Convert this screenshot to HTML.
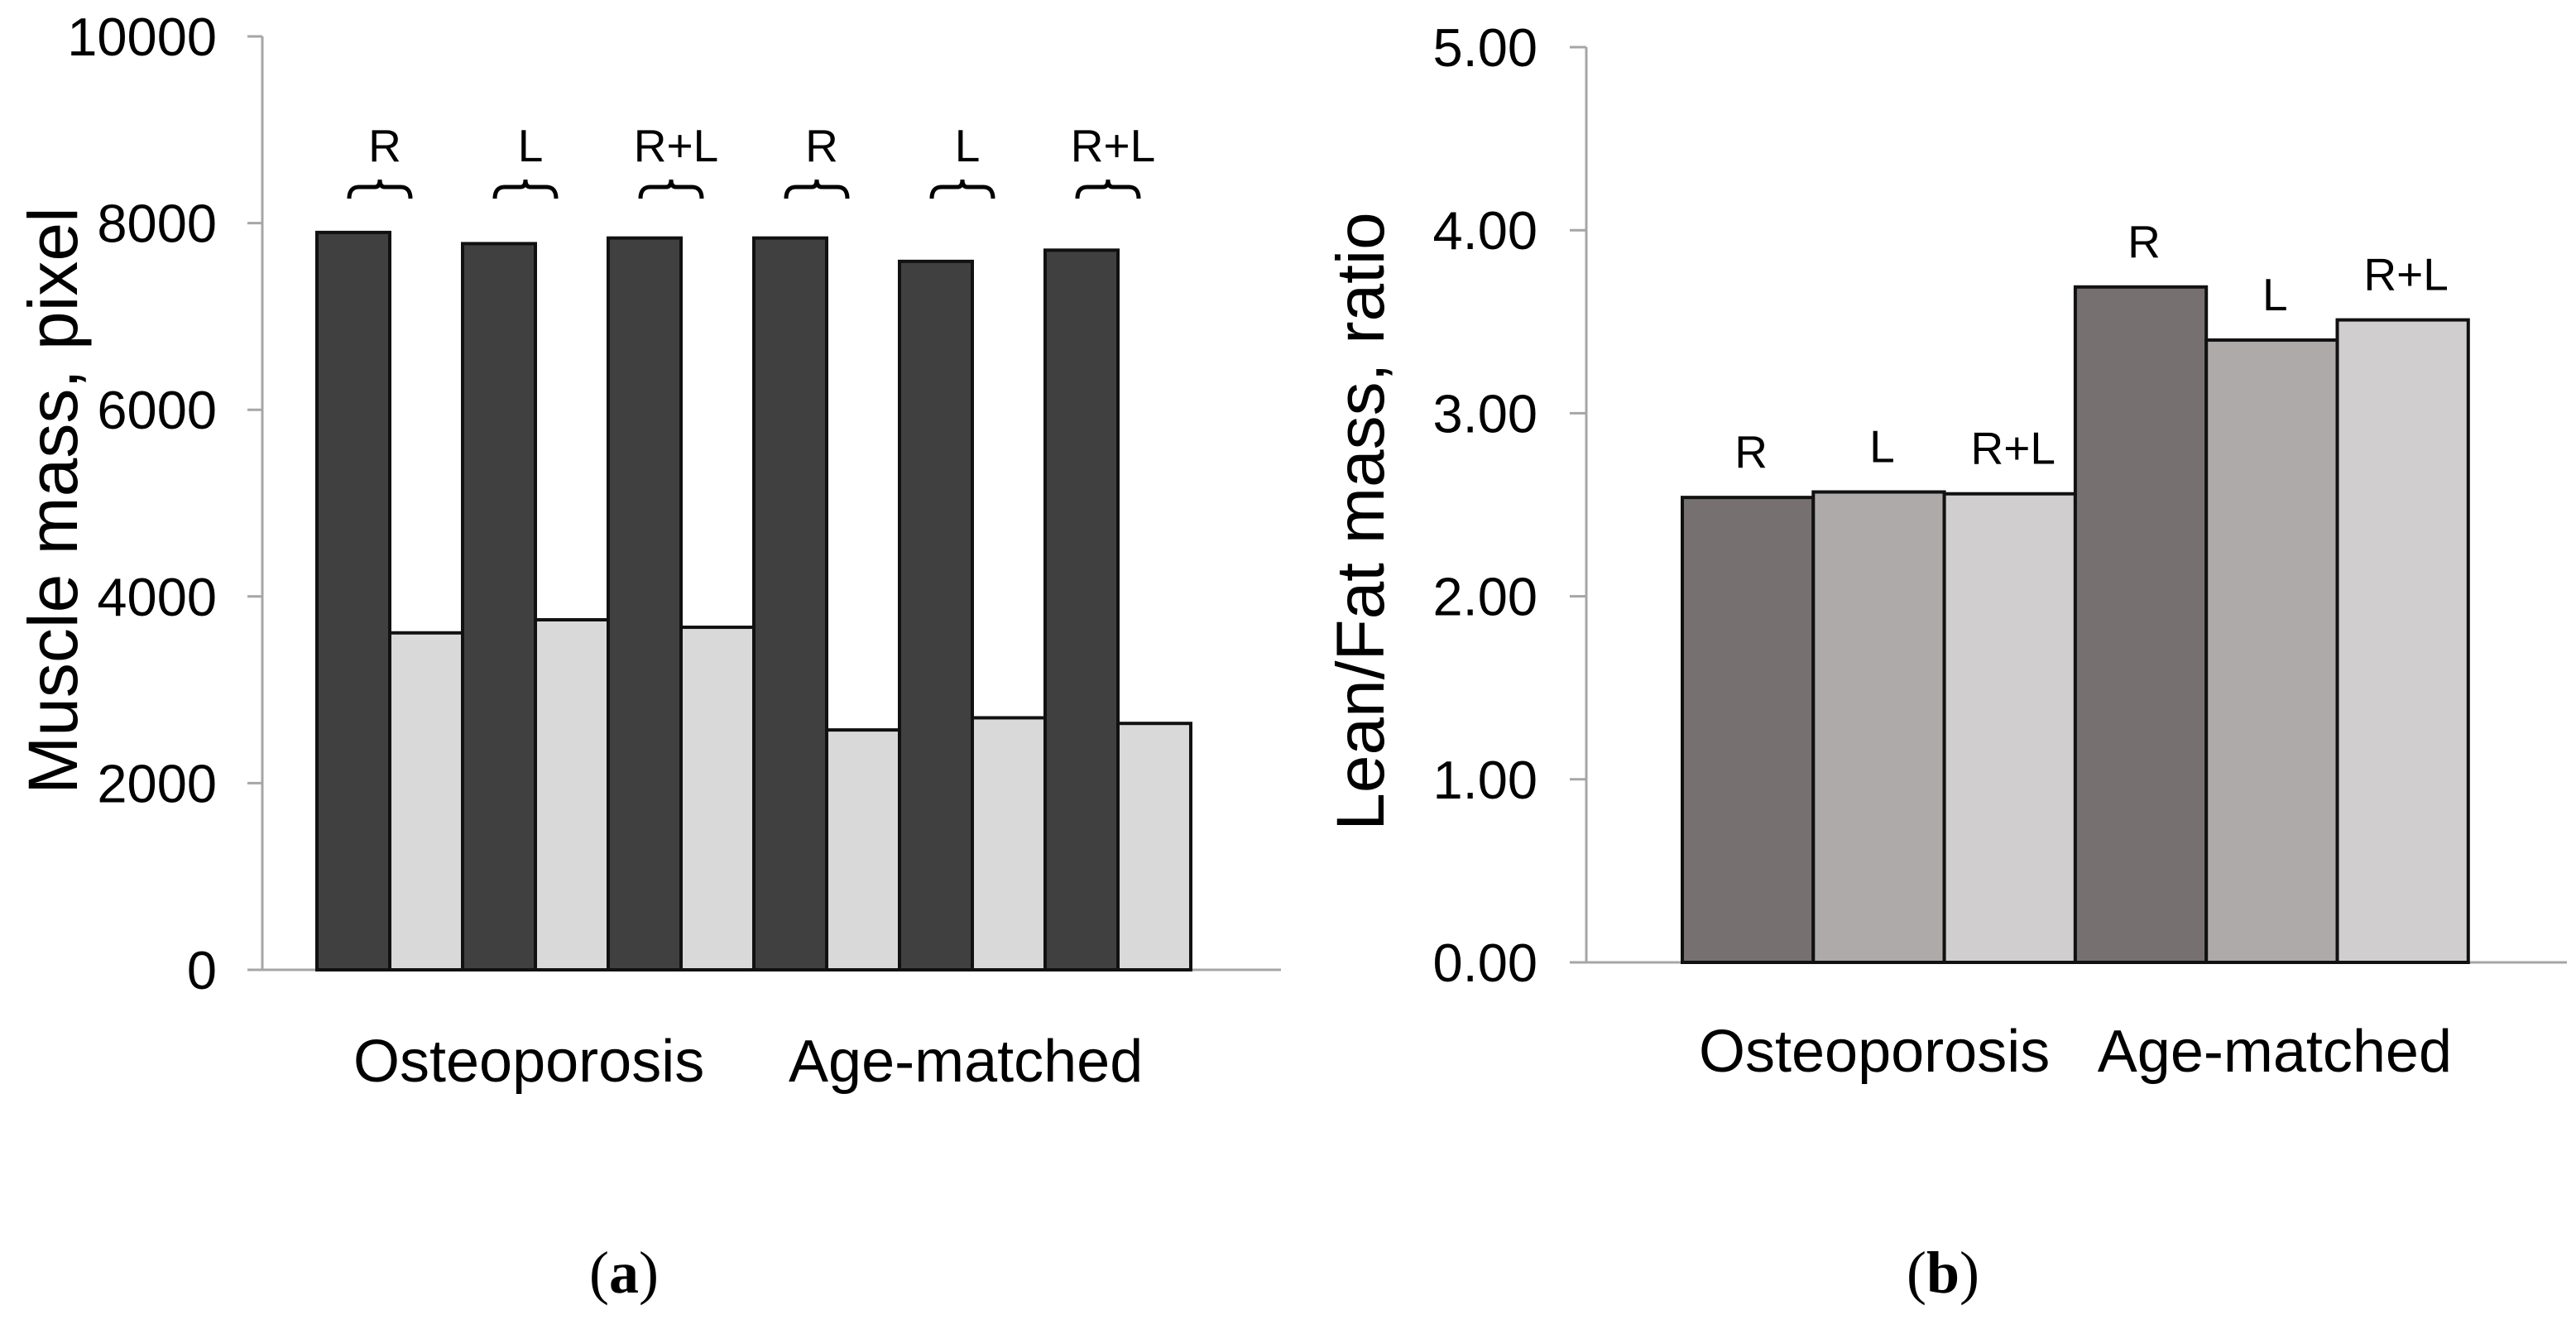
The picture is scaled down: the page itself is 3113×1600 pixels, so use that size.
<!DOCTYPE html>
<html><head><meta charset="utf-8"><style>
html,body{margin:0;padding:0;background:#fff;}
svg{display:block;font-family:"Liberation Sans",sans-serif;}
</style></head><body>
<svg id="fig" width="3113" height="1600" viewBox="0 0 3113 1600" xmlns="http://www.w3.org/2000/svg">
<g id="chartA"></g>
<g id="chartB"></g>
<text x="754" y="1562" text-anchor="middle" font-family="Liberation Serif, serif" font-size="72">(<tspan font-weight="bold">a</tspan>)</text>
<text x="2348" y="1562" text-anchor="middle" font-family="Liberation Serif, serif" font-size="72">(<tspan font-weight="bold">b</tspan>)</text>
</svg>
<script>
// Chart A data
var aGroupLabels = ["R","L","R+L","R","L","R+L"];
var aDarkValues = [7900,7780,7840,7840,7590,7710];
var aLightValues = [3610,3750,3670,2570,2700,2640];
var aTicks = [0,2000,4000,6000,8000,10000];
var aCategories = ["Osteoporosis","Age-matched"];
// Chart B data
var bLabels = ["R","L","R+L","R","L","R+L"];
var bValues = [2.54,2.57,2.56,3.69,3.40,3.51];
var bTicks = ["0.00","1.00","2.00","3.00","4.00","5.00"];
var bCategories = ["Osteoporosis","Age-matched"];

var NS="http://www.w3.org/2000/svg";
function mk(parent,tag,attrs,text){var e=document.createElementNS(NS,tag);for(var k in attrs)e.setAttribute(k,attrs[k]);if(text!==undefined)e.textContent=text;parent.appendChild(e);return e;}

// ---- Chart A ----
var A=document.getElementById('chartA');
var aY0=1172,aYtop=44,aMax=10000,aAxisX=317,aBarX0=383,aBarW=88;
function aY(v){return aY0-(v/aMax)*(aY0-aYtop);}
var el;
el=mk(A,'line',{x1:aAxisX,y1:aYtop,x2:aAxisX,y2:aY0,stroke:'#a6a6a6','stroke-width':3});


el=mk(A,'line',{x1:299,y1:aY0,x2:1548,y2:aY0,stroke:'#a6a6a6','stroke-width':3});


aTicks.forEach(function(t){
  var y=aY(t);
  el=mk(A,'line',{x1:299,y1:y,x2:aAxisX,y2:y,stroke:'#a6a6a6','stroke-width':3});
  
  
  el=mk(A,'text',{x:262,y:y+23,'text-anchor':'end','font-size':65},String(t));
  
  
});
aDarkValues.forEach(function(v,i){
  var x=aBarX0+i*2*aBarW;
  el=mk(A,'rect',{x:x,y:aY(v),width:aBarW,height:aY0-aY(v),fill:'#404040',stroke:'#111','stroke-width':4});
  
  
});
aLightValues.forEach(function(v,i){
  var x=aBarX0+(i*2+1)*aBarW;
  el=mk(A,'rect',{x:x,y:aY(v),width:aBarW,height:aY0-aY(v),fill:'#d9d9d9',stroke:'#111','stroke-width':4});
  
  
});
aGroupLabels.forEach(function(l,i){
  var cx=aBarX0+i*2*aBarW+aBarW-6;
  el=mk(A,'text',{x:cx,y:195,'text-anchor':'middle','font-size':55},l);
  
  
  var bx=cx-6,h=37;
  var d='M'+(bx-h)+' 240 Q'+(bx-h)+' 226 '+(bx-h+12)+' 226 L'+(bx-6)+' 226 Q'+bx+' 226 '+bx+' 217 Q'+bx+' 226 '+(bx+6)+' 226 L'+(bx+h-12)+' 226 Q'+(bx+h)+' 226 '+(bx+h)+' 240';
  el=mk(A,'path',{d:d,fill:'none',stroke:'#000','stroke-width':5});
  
  
});
el=mk(A,'text',{x:427,y:1307,'font-size':72},aCategories[0]);


el=mk(A,'text',{x:953,y:1307,'font-size':72},aCategories[1]);


el=mk(A,'text',{x:0,y:0,'text-anchor':'middle','font-size':84,transform:'translate(93,605) rotate(-90)'},'Muscle mass, pixel');



// ---- Chart B ----
var B=document.getElementById('chartB');
var bY0=1163,bYtop=57,bMax=5,bAxisX=1917,bBarX0=2033,bBarW=158.3;
var bColors=['#767170','#aeaaa9','#d0cecf'];
function bY(v){return bY0-(v/bMax)*(bY0-bYtop);}
el=mk(B,'line',{x1:bAxisX,y1:bYtop,x2:bAxisX,y2:bY0,stroke:'#a6a6a6','stroke-width':3});


el=mk(B,'line',{x1:1897,y1:bY0,x2:3102,y2:bY0,stroke:'#a6a6a6','stroke-width':3});


bTicks.forEach(function(t){
  var y=bY(parseFloat(t));
  el=mk(B,'line',{x1:1897,y1:y,x2:bAxisX,y2:y,stroke:'#a6a6a6','stroke-width':3});
  
  
  el=mk(B,'text',{x:1858,y:y+23,'text-anchor':'end','font-size':65},t);
  
  
});
bValues.forEach(function(v,i){
  var x=bBarX0+i*bBarW;
  el=mk(B,'rect',{x:x,y:bY(v),width:bBarW,height:bY0-bY(v),fill:bColors[i%3],stroke:'#111','stroke-width':4});
  
  
  el=mk(B,'text',{x:x+bBarW/2+4,y:bY(v)-36,'text-anchor':'middle','font-size':55},bLabels[i]);
  
  
});
el=mk(B,'text',{x:2053,y:1295,'font-size':72},bCategories[0]);


el=mk(B,'text',{x:2963,y:1295,'text-anchor':'end','font-size':72},bCategories[1]);


el=mk(B,'text',{x:0,y:0,'text-anchor':'middle','font-size':82,transform:'translate(1672,630) rotate(-90)'},'Lean/Fat mass, ratio');


</script>
</body></html>
